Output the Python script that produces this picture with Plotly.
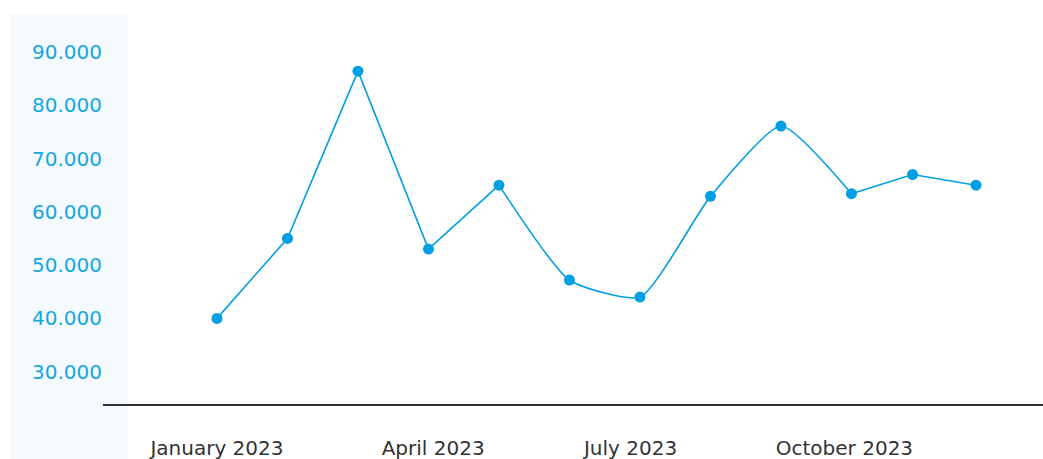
import plotly.graph_objects as go

# Data
dates = ["2023-01-01", "2023-01-31", "2023-03-02", "2023-04-01", "2023-05-01", "2023-05-31",
         "2023-06-30", "2023-07-30", "2023-08-29", "2023-09-28", "2023-10-24", "2023-11-20"]
values = [40000, 55000, 86400, 53000, 65000, 47200, 44000, 62900, 76100, 63400, 67000, 65000]

tick_dates = ["2023-01-01", "2023-04-03", "2023-06-26", "2023-09-25"]
tick_labels = ["January 2023", "April 2023", "July 2023", "October 2023"]
y_ticks = [30000, 40000, 50000, 60000, 70000, 80000, 90000]
y_tick_labels = ["30.000", "40.000", "50.000", "60.000", "70.000", "80.000", "90.000"]

BLUE = "#009fe3"
LABEL_BLUE = "#12a7e3"

fig = go.Figure()
# straight segment Jan..May
fig.add_trace(go.Scatter(x=dates[0:5], y=values[0:5], mode="lines",
                         line=dict(color=BLUE, width=1.6), hoverinfo="skip"))
# smooth segment May..Oct
fig.add_trace(go.Scatter(x=dates[4:10], y=values[4:10], mode="lines",
                         line=dict(color=BLUE, width=1.6, shape="spline", smoothing=0.55),
                         hoverinfo="skip"))
# straight segment Oct..Dec
fig.add_trace(go.Scatter(x=dates[9:12], y=values[9:12], mode="lines",
                         line=dict(color=BLUE, width=1.6), hoverinfo="skip"))
# markers
fig.add_trace(go.Scatter(x=dates, y=values, mode="markers",
                         marker=dict(color=BLUE, size=11), hoverinfo="skip"))

fig.add_shape(type="rect", xref="paper", yref="paper",
              x0=(10 - 103) / 940, x1=(128 - 103) / 940,
              y0=(404 - 470) / 389, y1=(404 - 14) / 389,
              fillcolor="#f5faff", line=dict(width=0), layer="below")

fig.update_layout(
    width=1043, height=459,
    margin=dict(l=103, r=0, t=15, b=55),
    paper_bgcolor="white", plot_bgcolor="rgba(0,0,0,0)",
    showlegend=False,
    font=dict(family="DejaVu Sans", size=20),
)
fig.update_xaxes(
    type="date",
    range=["2022-11-13 12:00", "2023-12-18 12:00"],
    tickvals=tick_dates, ticktext=tick_labels,
    showgrid=False, zeroline=False,
    showline=True, linecolor="#333333", linewidth=1.5,
    ticks="", ticklabelstandoff=25,
    tickfont=dict(color="#333333", size=20),
)
fig.update_yaxes(
    range=[23930, 96940],
    tickvals=y_ticks, ticktext=y_tick_labels,
    showgrid=False, zeroline=False, showline=False,
    ticks="", ticklabelstandoff=0,
    tickfont=dict(color=LABEL_BLUE, size=20),
)

fig.write_html("out.html", config={"displayModeBar": False},
               post_script="document.body.style.margin='0';")
